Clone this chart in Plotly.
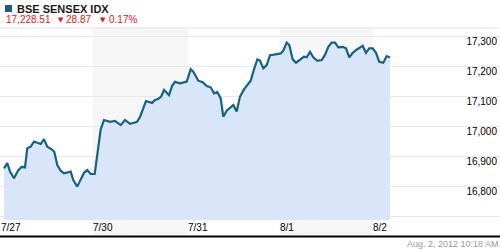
import plotly.graph_objects as go

# ---- data ----
day_labels = ["7/27", "7/30", "7/31", "8/1", "8/2"]
day_starts = [1, 93, 188, 280, 373]          # time index where each session starts
shaded_days = [1, 3]                          # indices of alternating shaded sessions

t = [4, 7.3, 10, 14, 18.3, 21.7, 25, 27.3, 30.7, 34, 37.3, 40.7, 44, 47.3, 51.7, 54.3,
     57.3, 60.7, 64, 67.3, 70.7, 73.3, 77.3, 80.7, 84, 87.3, 90.7, 94.7,
     97.3, 100.7, 104, 106, 110, 115, 120.7, 125, 130, 134, 137, 140, 143, 146, 149,
     152, 155, 158, 161, 164, 166, 169, 172, 175, 180, 186.7,
     190.7, 193.3, 198.3, 202.7, 206.7, 210.7, 214, 217.3, 220.7, 223.3, 226.7, 230,
     233.3, 236.7, 240, 244, 248.3, 250.7, 254, 257.3, 260, 263.3, 266.7, 270, 274, 277.3,
     280.7, 283.3, 286.7, 289.3, 292.7, 296, 300, 304, 306.7, 310, 313.3, 317.3, 321.7,
     325, 328.3, 331.7, 335, 338.3, 342.7, 346, 349.3, 352.7, 357.3, 362.7, 366, 369.3, 372.7,
     376, 379.3, 383.3, 386.7, 390]
values = [16859, 16876, 16848, 16826, 16853, 16864, 16862, 16926, 16931, 16948, 16944, 16940,
          16956, 16931, 16922, 16914, 16870, 16851, 16842, 16844, 16848, 16820, 16798, 16822,
          16844, 16853, 16840, 16840,
          16909, 16989, 17020, 17018, 17014, 17017, 17003, 17020, 17007, 17011, 17014, 17030,
          17060, 17083, 17080, 17077, 17087, 17090, 17097, 17120, 17113, 17103, 17133, 17147,
          17142, 17148,
          17189, 17181, 17151, 17146, 17133, 17129, 17109, 17113, 17092, 17031, 17051, 17062,
          17070, 17048, 17098, 17122, 17142, 17151, 17189, 17222, 17218, 17192, 17203, 17236,
          17238, 17240,
          17242, 17251, 17278, 17270, 17222, 17211, 17222, 17231, 17229, 17247, 17229, 17217,
          17220, 17237, 17264, 17278, 17278, 17262, 17264, 17259, 17229, 17244, 17256, 17267,
          17244, 17259, 17259,
          17244, 17214, 17211, 17233, 17228.51]
y_ticks = [16700, 16800, 16900, 17000, 17100, 17200, 17300]
y_tick_text = ["", "16,800", "16,900", "17,000", "17,100", "17,200", "17,300"]

title_text = "BSE SENSEX IDX"
last_text = "17,228.51"
change_text = "28.87"
pct_text = "0.17%"
stamp_text = "Aug. 2, 2012 10:18 AM"

# ---- styling ----
W, H = 500, 250
MT, MB = 28, 30
PH = H - MT - MB
FONT = "Liberation Sans, Arial, sans-serif"
RED = "#e3141c"


def px(x):
    return x / W


def py(y):
    return (H - MB - y) / PH


fig = go.Figure()
fig.add_trace(go.Scatter(
    x=t, y=values, mode="lines", fill="tozeroy",
    line=dict(color="#17627f", width=2.2, shape="linear"),
    fillcolor="#d9e5f8", hoverinfo="skip", showlegend=False,
))

shapes = []
for i in shaded_days:
    shapes.append(dict(type="rect", xref="x", yref="paper",
                       x0=day_starts[i], x1=day_starts[i + 1], y0=py(236), y1=1,
                       fillcolor="#f6f6f6", line=dict(width=0), layer="below"))
shapes.append(dict(type="line", xref="paper", yref="paper", x0=0, x1=1, y0=1, y1=1,
                   line=dict(color="#e4e4e4", width=1)))
shapes.append(dict(type="line", xref="paper", yref="paper", x0=0, x1=1,
                   y0=py(236.5), y1=py(236.5), line=dict(color="#000000", width=2)))
shapes.append(dict(type="rect", xref="paper", yref="paper", x0=px(5), x1=px(12),
                   y0=py(12), y1=py(5), fillcolor="#1b5f7c", line=dict(width=0)))

annotations = [
    dict(text="<b>" + title_text + "</b>", x=px(15.5), y=py(8.5), xanchor="left", yanchor="middle",
         font=dict(family=FONT, size=11, color="#1a1a1a")),
    dict(text=last_text, x=px(5), y=py(20), xanchor="left", yanchor="middle",
         font=dict(family=FONT, size=10, color=RED)),
    dict(text="▼", x=px(56.5), y=py(19.5), xanchor="left", yanchor="middle",
         font=dict(family="DejaVu Sans", size=7, color=RED)),
    dict(text=change_text, x=px(64.5), y=py(20), xanchor="left", yanchor="middle",
         font=dict(family=FONT, size=10, color=RED)),
    dict(text="▼", x=px(98.5), y=py(19.5), xanchor="left", yanchor="middle",
         font=dict(family="DejaVu Sans", size=7, color=RED)),
    dict(text=pct_text, x=px(107.5), y=py(20), xanchor="left", yanchor="middle",
         font=dict(family=FONT, size=10, color=RED)),
    dict(text=stamp_text, x=px(500), y=py(244), xanchor="right", yanchor="middle",
         font=dict(family=FONT, size=9, color="#9a9a9a")),
]
for a in annotations:
    a.update(xref="paper", yref="paper", showarrow=False, borderpad=0)

y_per_px = 100 / 30.0
y_top = 17300 + (36 - MT) * y_per_px
y_bot = y_top - PH * y_per_px

fig.update_layout(
    width=W, height=H,
    margin=dict(l=0, r=0, t=MT, b=MB, pad=0),
    paper_bgcolor="white", plot_bgcolor="white",
    shapes=shapes, annotations=annotations,
    xaxis=dict(range=[0, W], tickvals=day_starts, ticktext=day_labels,
               ticklabelposition="outside right", showgrid=False, zeroline=False,
               showline=False, ticks="", fixedrange=True,
               tickfont=dict(family=FONT, size=10, color="#000000")),
    yaxis=dict(range=[y_bot, y_top], side="right", tickvals=y_ticks, ticktext=y_tick_text,
               ticklabelposition="inside", ticklabelshift=5, ticks="",
               showgrid=True, gridcolor="#e8e8e8", gridwidth=1, zeroline=False,
               showline=False, fixedrange=True,
               tickfont=dict(family=FONT, size=10, color="#000000")),
    showlegend=False,
)

fig.write_html("out.html", config={"displayModeBar": False})
